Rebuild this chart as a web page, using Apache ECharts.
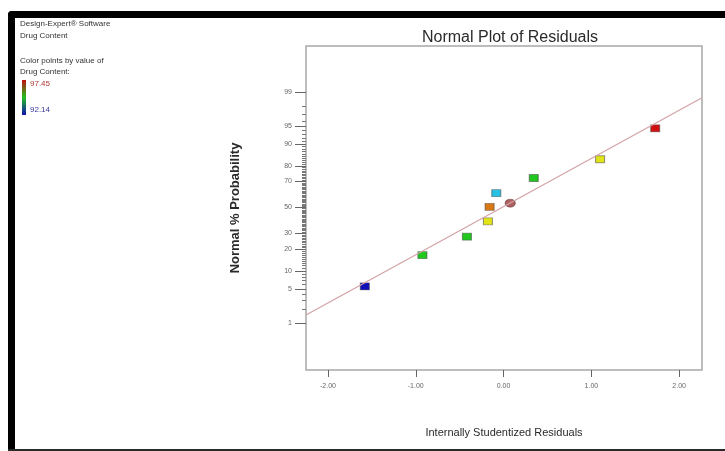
<!DOCTYPE html>
<html>
<head>
<meta charset="utf-8">
<script src="https://cdn.jsdelivr.net/npm/echarts@6/dist/echarts.min.js"></script>
<style>
html,body{margin:0;padding:0;background:#fff;}
#chart{width:725px;height:451px;}
</style>
</head>
<body>
<div id="chart"></div>
<script>
// ---- data ----
const residuals     = [-1.58, -0.924, -0.417, -0.178, -0.159, -0.083, 0.344, 1.099, 1.727];
const probabilities = [5.56, 16.8, 27.8, 39.0, 50.5, 61.4, 72.4, 83.5, 94.5];
const drugContent   = [92.14, 94.8, 94.8, 96.1, 96.8, 93.5, 94.8, 96.1, 97.45];
const markedResidual = [0.076];
const markedProbability = [53.5];
const fitResiduals = [-2.25, 2.26];
const fitProbabilities = [1.5, 98.66];
const majorProbTicks = [1, 5, 10, 20, 30, 50, 70, 80, 90, 95, 99];
const xTicks = [-2, -1, 0, 1, 2];
const colorRange = [92.14, 97.45];

// inverse standard normal CDF (Acklam) – the probability-scale transform
function invNorm(p){
  const a=[-3.969683028665376e+01,2.209460984245205e+02,-2.759285104469687e+02,1.383577518672690e+02,-3.066479806614716e+01,2.506628277459239e+00];
  const b=[-5.447609879822406e+01,1.615858368580409e+02,-1.556989798598866e+02,6.680131188771972e+01,-1.328068155288572e+01];
  const c=[-7.784894002430293e-03,-3.223964580411365e-01,-2.400758277161838e+00,-2.549732539343734e+00,4.374664141464968e+00,2.938163982698783e+00];
  const d=[7.784695709041462e-03,3.224671290700398e-01,2.445134137142996e+00,3.754408661907416e+00];
  const pl=0.02425, ph=1-pl; let q,r;
  if(p<pl){q=Math.sqrt(-2*Math.log(p));return (((((c[0]*q+c[1])*q+c[2])*q+c[3])*q+c[4])*q+c[5])/((((d[0]*q+d[1])*q+d[2])*q+d[3])*q+1);}
  if(p<=ph){q=p-0.5;r=q*q;return (((((a[0]*r+a[1])*r+a[2])*r+a[3])*r+a[4])*r+a[5])*q/(((((b[0]*r+b[1])*r+b[2])*r+b[3])*r+b[4])*r+1);}
  q=Math.sqrt(-2*Math.log(1-p));return -(((((c[0]*q+c[1])*q+c[2])*q+c[3])*q+c[4])*q+c[5])/((((d[0]*q+d[1])*q+d[2])*q+d[3])*q+1);
}
const z = pct => invNorm(pct/100);

const minorProbTicks = [];
for (let i = 1; i <= 99; i++) minorProbTicks.push(i);

const majorZ = majorProbTicks.map(z);
const minorZ = minorProbTicks.map(z);
const labelFor = v => {
  let best = 0, bd = 1e9;
  majorZ.forEach((mz, i) => { const dd = Math.abs(mz - v); if (dd < bd) { bd = dd; best = i; } });
  return String(majorProbTicks[best]);
};

const pointData = residuals.map((r, i) => [r, z(probabilities[i]), drugContent[i]]);
const markedData = markedResidual.map((r, i) => [r, z(markedProbability[i])]);
const fitData = fitResiduals.map((r, i) => [r, z(fitProbabilities[i])]);

const FONT = '"Liberation Sans",Arial,sans-serif';

const chart = echarts.init(document.getElementById('chart'), null, {renderer: 'canvas'});
chart.setOption({
  backgroundColor: '#ffffff',
  animation: false,
  title: {
    text: 'Normal Plot of Residuals',
    left: 505, top: 25, textAlign: 'center',
    textStyle: {fontFamily: FONT, fontSize: 16, fontWeight: 'normal', color: '#2a2a2a'}
  },
  grid: {left: 306, top: 46, width: 396, height: 324, show: true,
         borderColor: '#a8a8a8', borderWidth: 1.5, backgroundColor: '#fff'},
  visualMap: {
    show: false, type: 'continuous', seriesIndex: 1, dimension: 2,
    min: colorRange[0], max: colorRange[1],
    inRange: {color: ['#1010b8', '#28c0e8', '#20c820', '#e4e418', '#d01010']}
  },
  xAxis: {
    type: 'value', min: -2.25, max: 2.26,
    name: 'Internally Studentized Residuals', nameLocation: 'middle', nameGap: 57,
    nameTextStyle: {fontFamily: FONT, fontSize: 11, color: '#2a2a2a'},
    axisLine: {show: false, onZero: false},
    splitLine: {show: false},
    axisTick: {show: true, length: 7, customValues: xTicks, lineStyle: {color: '#666', width: 1}},
    axisLabel: {customValues: xTicks, margin: 13, fontFamily: FONT, fontSize: 7, color: '#666',
                formatter: v => v.toFixed(2)}
  },
  yAxis: [{
    type: 'value', min: -3.28, max: 3.26, position: 'left',
    axisLine: {show: false, onZero: false}, splitLine: {show: false},
    axisTick: {show: true, length: 4, customValues: minorZ, lineStyle: {color: '#777', width: 1}},
    axisLabel: {show: false}
  }, {
    type: 'value', min: -3.28, max: 3.26, position: 'left',
    name: 'Normal % Probability', nameLocation: 'middle', nameGap: 64, nameRotate: 90,
    nameTextStyle: {fontFamily: FONT, fontSize: 13, fontWeight: 'bold', color: '#2a2a2a'},
    axisLine: {show: false, onZero: false}, splitLine: {show: false},
    axisTick: {show: true, length: 11, customValues: majorZ, lineStyle: {color: '#666', width: 1}},
    axisLabel: {customValues: majorZ, margin: 14, fontFamily: FONT, fontSize: 7, color: '#666',
                formatter: labelFor}
  }],
  series: [{
    type: 'line', data: fitData, symbol: 'none', silent: true,
    lineStyle: {color: '#d4a4a8', width: 1.3}
  }, {
    type: 'scatter', data: pointData, symbol: 'rect', symbolSize: [9, 7],
    itemStyle: {opacity: 1, borderColor: 'rgba(60,60,60,0.5)', borderWidth: 1}
  }, {
    type: 'scatter', data: markedData, symbol: 'circle', symbolSize: [10, 8],
    itemStyle: {opacity: 1, color: '#b06060', borderColor: 'rgba(90,50,50,0.6)', borderWidth: 1}
  }],
  graphic: [
    {type: 'rect', shape: {x: 8, y: 11, width: 717, height: 7, r: [4, 0, 0, 0]}, style: {fill: '#000'}},
    {type: 'rect', shape: {x: 8, y: 11, width: 7, height: 440, r: [4, 0, 0, 0]}, style: {fill: '#000'}},
    {type: 'rect', shape: {x: 8, y: 449, width: 717, height: 2}, style: {fill: '#2a2a2a'}},
    {type: 'text', x: 20, y: 20, style: {text: 'Design-Expert® Software', font: '8px ' + FONT, fill: '#333'}},
    {type: 'text', x: 20, y: 32, style: {text: 'Drug Content', font: '8px ' + FONT, fill: '#333'}},
    {type: 'text', x: 20, y: 57, style: {text: 'Color points by value of', font: '8px ' + FONT, fill: '#333'}},
    {type: 'text', x: 20, y: 68, style: {text: 'Drug Content:', font: '8px ' + FONT, fill: '#333'}},
    {type: 'rect', shape: {x: 22, y: 80, width: 4, height: 35},
     style: {fill: new echarts.graphic.LinearGradient(0, 0, 0, 1, [
       {offset: 0, color: '#c01010'}, {offset: 0.5, color: '#20c020'}, {offset: 1, color: '#1010b0'}])}},
    {type: 'text', x: 30, y: 80, style: {text: String(colorRange[1]), font: '8px ' + FONT, fill: '#b03838'}},
    {type: 'text', x: 30, y: 106, style: {text: String(colorRange[0]), font: '8px ' + FONT, fill: '#3838a0'}}
  ]
});
</script>
</body>
</html>
